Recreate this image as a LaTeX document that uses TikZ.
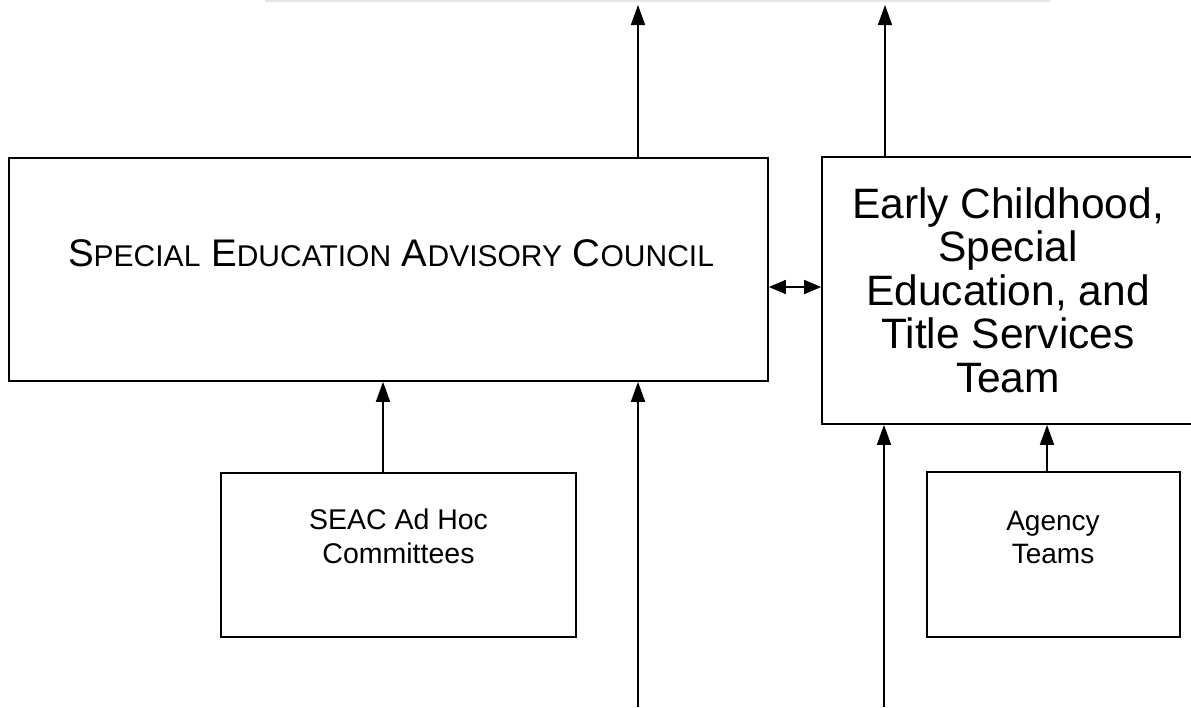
\documentclass[tikz,border=0pt]{standalone}
\usepackage{fontspec}
\setmainfont{Liberation Sans}
\usetikzlibrary{arrows.meta}
\newcommand\capsc[2]{{\fontsize{38.5}{40}\selectfont #1}{\fontsize{30}{31}\selectfont #2}}
\begin{document}
\begin{tikzpicture}[x=1pt,y=-1pt,
  box/.style={draw,line width=1.7pt,inner sep=0pt,rectangle},
  arr/.style={line width=1.7pt,-{Triangle[length=20pt,width=14pt]}},
  darr/.style={line width=1.7pt,{Triangle[length=17pt,width=14pt]}-{Triangle[length=17pt,width=14pt]}},
  lbl/.style={anchor=base,align=center,inner sep=0pt}]
\useasboundingbox (0,0) rectangle (1191,707);
\draw[black!10,line width=2pt] (265,1) -- (1050,1);
% boxes
\node[box,minimum width=759pt,minimum height=223pt] (main) at (388.5,269.5) {};
\node[box,minimum width=378pt,minimum height=267pt] (team) at (1011,290.5) {};
\node[box,minimum width=355pt,minimum height=164pt] (seac) at (398.5,555) {};
\node[box,minimum width=253pt,minimum height=165pt] (agency) at (1053.5,554.5) {};
% texts (anchor base = baseline of the last line)
\node[lbl,font=\fontsize{38.5}{40}\selectfont] (maintxt) at (391,266)
  {\capsc{S}{PECIAL} \capsc{E}{DUCATION} \capsc{A}{DVISORY} \capsc{C}{OUNCIL}};
\node[lbl,font=\fontsize{42.5}{43.5}\selectfont] (teamtxt) at (1008,392)
  {Early Childhood,\\Special\\Education, and\\Title Services\\Team};
\node[lbl,font=\fontsize{28.5}{34}\selectfont] (seactxt) at (398.5,563)
  {SEAC Ad Hoc\\Committees};
\node[lbl,font=\fontsize{28}{33}\selectfont] (agencytxt) at (1053,563)
  {Agency\\Teams};
% free ends
\coordinate (t1) at (638,5);
\coordinate (t2) at (885,5);
\coordinate (b1) at (638,707);
\coordinate (b2) at (884,707);
\coordinate (mid) at (795,287);
\coordinate (sx) at (383,0);
\coordinate (ax) at (1047,0);
% connectors
\draw[arr] (main.north -| t1) -- (t1);
\draw[arr] (team.north -| t2) -- (t2);
\draw[darr] (main.east |- mid) -- (team.west |- mid);
\draw[arr] (b1) -- (main.south -| b1);
\draw[arr] (b2) -- (team.south -| b2);
\draw[arr] (seac.north -| sx) -- (main.south -| sx);
\draw[arr] (agency.north -| ax) -- (team.south -| ax);
\end{tikzpicture}
\end{document}
